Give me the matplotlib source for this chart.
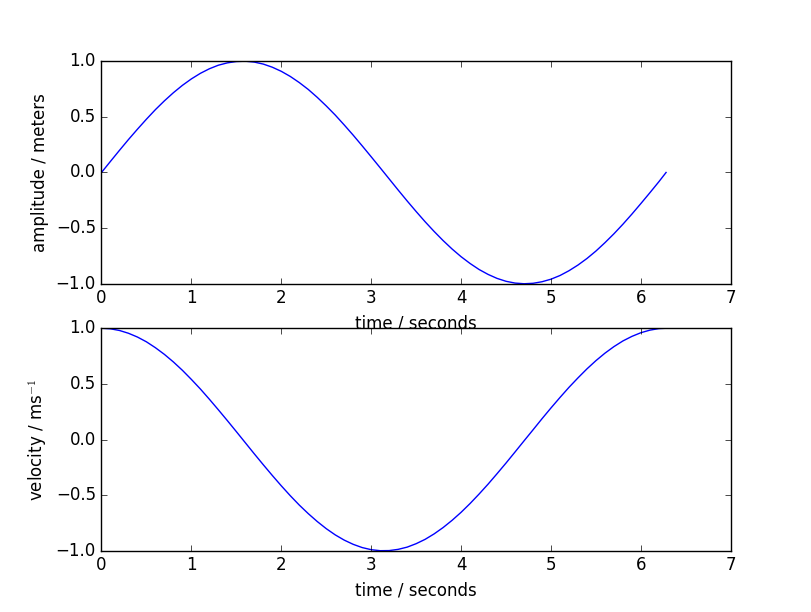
import matplotlib
matplotlib.use('Agg')
import matplotlib.pyplot as plt

# time samples (seconds)
time = [0.0, 0.1, 0.2, 0.3, 0.4, 0.5, 0.6, 0.7, 0.8, 0.9,
        1.0, 1.1, 1.2, 1.3, 1.4, 1.5, 1.6, 1.7, 1.8, 1.9,
        2.0, 2.1, 2.2, 2.3, 2.4, 2.5, 2.6, 2.7, 2.8, 2.9,
        3.0, 3.1, 3.2, 3.3, 3.4, 3.5, 3.6, 3.7, 3.8, 3.9,
        4.0, 4.1, 4.2, 4.3, 4.4, 4.5, 4.6, 4.7, 4.8, 4.9,
        5.0, 5.1, 5.2, 5.3, 5.4, 5.5, 5.6, 5.7, 5.8, 5.9,
        6.0, 6.1, 6.2, 6.28]

amplitude = [0.000, 0.100, 0.199, 0.296, 0.389, 0.479, 0.565, 0.644, 0.717, 0.783,
             0.841, 0.891, 0.932, 0.964, 0.985, 0.997, 1.000, 0.992, 0.974, 0.946,
             0.909, 0.863, 0.808, 0.746, 0.675, 0.598, 0.516, 0.427, 0.335, 0.239,
             0.141, 0.042, -0.058, -0.158, -0.256, -0.351, -0.443, -0.530, -0.612, -0.688,
             -0.757, -0.818, -0.872, -0.916, -0.952, -0.978, -0.994, -1.000, -0.996, -0.982,
             -0.959, -0.926, -0.883, -0.832, -0.773, -0.706, -0.631, -0.551, -0.465, -0.374,
             -0.279, -0.182, -0.083, 0.000]

velocity = [1.000, 0.995, 0.980, 0.955, 0.921, 0.878, 0.825, 0.765, 0.697, 0.622,
            0.540, 0.454, 0.362, 0.267, 0.170, 0.071, -0.029, -0.129, -0.227, -0.323,
            -0.416, -0.505, -0.589, -0.666, -0.737, -0.801, -0.857, -0.904, -0.942, -0.971,
            -0.990, -0.999, -0.998, -0.987, -0.967, -0.936, -0.897, -0.848, -0.791, -0.726,
            -0.654, -0.575, -0.490, -0.401, -0.307, -0.211, -0.112, -0.012, 0.087, 0.187,
            0.284, 0.378, 0.469, 0.554, 0.635, 0.709, 0.776, 0.835, 0.886, 0.927,
            0.960, 0.983, 0.997, 1.000]

plt.style.use('classic')

fig = plt.figure(figsize=(8.12, 6.12), dpi=100)

ax1 = fig.add_subplot(2, 1, 1)
ax1.plot(time, amplitude, color='b')
ax1.set_xlabel('time / seconds')
ax1.set_ylabel('amplitude / meters')

ax2 = fig.add_subplot(2, 1, 2)
ax2.plot(time, velocity, color='b')
ax2.set_xlabel('time / seconds')
ax2.set_ylabel('velocity / ms$^{-1}$')

fig.savefig('out.png', dpi=100, facecolor='white')
